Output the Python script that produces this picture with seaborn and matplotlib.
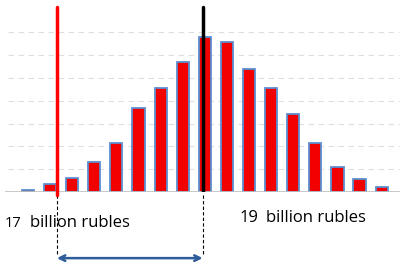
import matplotlib
matplotlib.use("Agg")
import matplotlib.pyplot as plt
import seaborn as sns

# bar heights (gridline units)
bins = list(range(17))
heights = [0.09, 0.35, 0.6, 1.3, 2.15, 3.7, 4.55, 5.7, 6.8, 6.6, 5.4, 4.55, 3.4, 2.15, 1.1, 0.57, 0.22]
grid_levels = [1, 2, 3, 4, 5, 6, 7]
low_pos, high_pos = 1.31, 7.9
low_label, high_label = "17", "19"
unit_label = "billion rubles"

sns.set_style("white")
plt.rcParams["font.family"] = ["Open Sans", "DejaVu Sans"]

fig = plt.figure(figsize=(4.14, 2.69), dpi=100)
ax = fig.add_axes([5 / 414, 1 - 192 / 269, 395 / 414, 192 / 269])

sns.barplot(x=bins, y=heights, color="#f20000", edgecolor="#5b8fd0",
            linewidth=1.3, width=0.55, saturation=1, ax=ax, native_scale=True)

ax.set_xlim(-1.04, 16.83)
ax.set_ylim(0, 8.42)
for g in grid_levels:
    ax.plot([-0.9, 16.8], [g, g], color="#dedede", lw=0.8, ls=(0, (5, 4)), zorder=0)
ax.axhline(0, color="#bfbfbf", lw=1.2, zorder=3)

# threshold lines
ax.plot([low_pos, low_pos], [-0.13, 8.1], color="#ff0000", lw=2.5, zorder=4, clip_on=False)
ax.plot([high_pos, high_pos], [0, 8.1], color="black", lw=2.5, zorder=4)

# dashed drop lines and double arrow under the axis
for xp in (low_pos, high_pos):
    ax.plot([xp, xp], [-0.13, -2.78], color="black", lw=0.8, ls=(0, (3, 2)), clip_on=False)
ax.annotate("", xy=(low_pos, -2.9), xytext=(high_pos, -2.9), xycoords="data",
            arrowprops=dict(arrowstyle="<->", color="#2f5d9a", lw=1.8,
                            shrinkA=0, shrinkB=0), annotation_clip=False)

fs = 12
ax.text(-1.04, -1.38, low_label, fontsize=fs - 1.5, va="center", ha="left", color="black")
ax.text(0.08, -1.38, unit_label, fontsize=fs, va="center", ha="left", color="black")
ax.text(9.57, -1.14, high_label, fontsize=fs, va="center", ha="left", color="black")
ax.text(10.75, -1.14, unit_label, fontsize=fs, va="center", ha="left", color="black")

ax.set_xticks([])
ax.set_yticks([])
ax.set_xlabel("")
for s in ax.spines.values():
    s.set_visible(False)

fig.savefig("out.png", dpi=100)
